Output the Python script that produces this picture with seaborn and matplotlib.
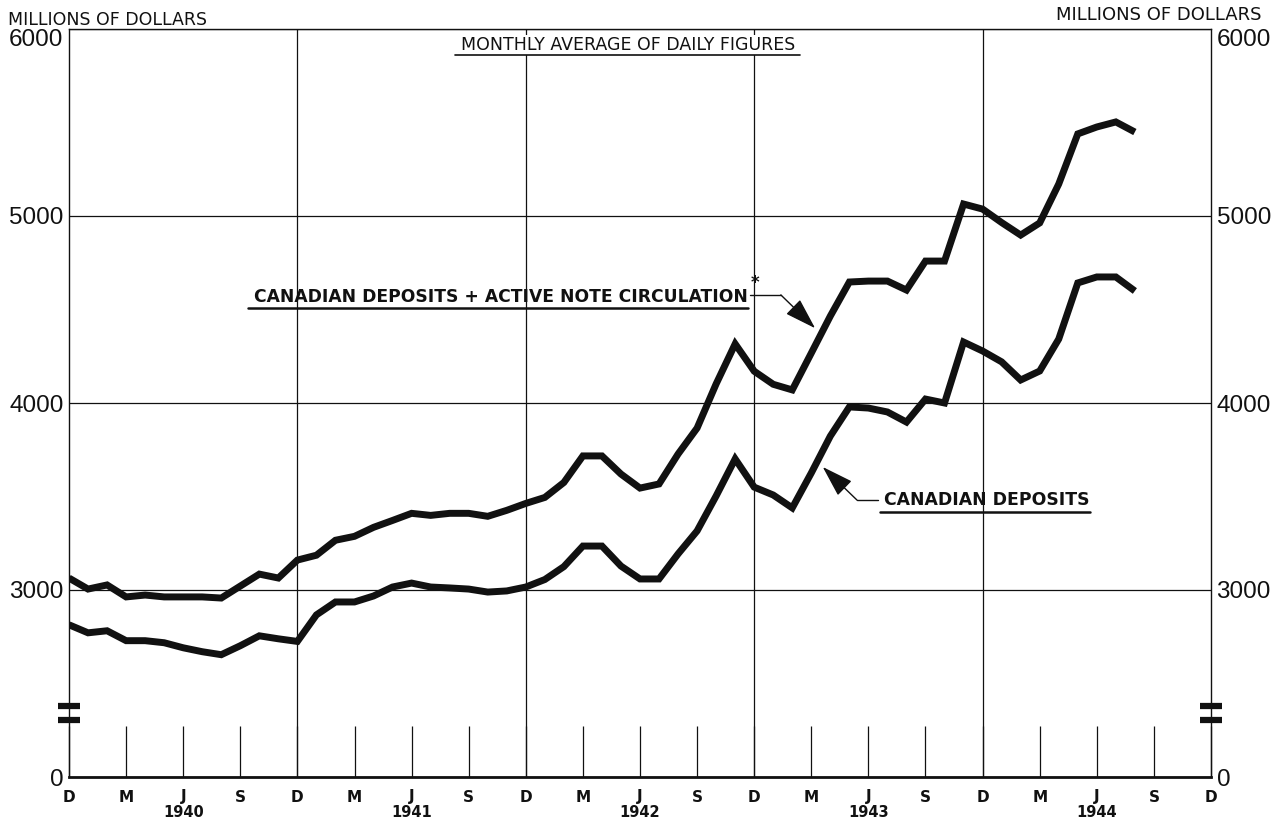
import matplotlib
matplotlib.use("Agg")
import matplotlib.pyplot as plt
import seaborn as sns
import pandas as pd

# Months counted from December 1939 (0) to August 1944 (56)
month_index = list(range(57))

# Canadian deposits plus active note circulation, millions of dollars
deposits_plus_notes = [
    3064, 3005, 3027, 2963, 2973, 2963, 2963, 2963, 2957, 3021, 3085, 3064,
    3160, 3186, 3266, 3287, 3335, 3372, 3410, 3399, 3410, 3410, 3394, 3426,
    3463, 3495, 3575, 3717, 3717, 3620, 3545, 3567, 3727, 3866, 4102, 4316,
    4170, 4100, 4070, 4267, 4465, 4647, 4652, 4652, 4604, 4759, 4759, 5064,
    5037, 4965, 4898, 4963, 5171, 5439, 5476, 5503, 5449,
]

# Canadian deposits, millions of dollars
canadian_deposits = [
    2814, 2771, 2782, 2729, 2729, 2718, 2691, 2670, 2654, 2702, 2755, 2739,
    2725, 2867, 2936, 2936, 2968, 3016, 3037, 3016, 3011, 3005, 2989, 2995,
    3016, 3056, 3125, 3235, 3235, 3128, 3059, 3059, 3193, 3316, 3503, 3701,
    3550, 3508, 3439, 3626, 3823, 3979, 3973, 3952, 3898, 4021, 4000, 4326,
    4278, 4220, 4123, 4171, 4342, 4642, 4674, 4674, 4599,
]

quarter_ticks = list(range(0, 61, 3))
quarter_labels = ["D", "M", "J", "S"] * 5 + ["D"]
year_ticks = [6, 18, 30, 42, 54]
year_labels = ["1940", "1941", "1942", "1943", "1944"]
december_lines = [12, 24, 36, 48]

# The scale is broken below 3000: the bottom edge stands for zero
y_ticks = [2000, 3000, 4000, 5000, 6000]
y_labels = ["0", "3000", "4000", "5000", "6000"]

sns.set_theme(style="white")
plt.rcParams["font.family"] = ["DejaVu Sans"]
digit_font = ["Liberation Sans", "DejaVu Sans"]

W, H = 1279, 818
fig = plt.figure(figsize=(W / 100, H / 100), dpi=100)
fig.patch.set_facecolor("white")
left, right, top, bottom = 69, 1211, 29, 777
ax = fig.add_axes([left / W, 1 - bottom / H, (right - left) / W, (bottom - top) / H])
ax.set_facecolor("white")

ink = "#111111"

df = pd.DataFrame({
    "month": month_index * 2,
    "value": deposits_plus_notes + canadian_deposits,
    "series": ["total"] * len(month_index) + ["deposits"] * len(month_index),
})
for name in ["total", "deposits"]:
    sns.lineplot(data=df[df["series"] == name], x="month", y="value",
                 color=ink, lw=5.0, ax=ax, legend=False,
                 solid_joinstyle="miter", solid_capstyle="butt", zorder=5)

ax.set_xlim(0, 60)
ax.set_ylim(2000, 6000)
ax.set_xlabel("")
ax.set_ylabel("")

# Horizontal grid and year-end verticals
ax.set_yticks(y_ticks)
ax.set_yticklabels(y_labels)
ax.yaxis.grid(True, color=ink, lw=0.9)
ax.xaxis.grid(False)
ax.vlines(december_lines, 2000, 6000, color=ink, lw=0.9, zorder=1)

# Quarter ticks stand up inside the frame
ax.set_xticks(quarter_ticks)
ax.set_xticklabels(quarter_labels, fontweight="bold", fontsize=11)
ax.tick_params(axis="x", direction="in", length=37, width=0.9, color=ink,
               pad=9, bottom=True, labelcolor=ink)
ax.tick_params(axis="y", length=0, labelsize=17.5, pad=4,
               labelleft=True, labelright=True, labelcolor=ink)
for tick in ax.yaxis.get_major_ticks():
    for lab in (tick.label1, tick.label2):
        lab.set_family(digit_font)
ax.yaxis.get_major_ticks()[-1].label1.set_va("top")
ax.yaxis.get_major_ticks()[-1].label2.set_va("top")

for s in ax.spines.values():
    s.set_color(ink)
    s.set_linewidth(1.0)
ax.spines["bottom"].set_linewidth(2.0)

# Year captions under each June
for x, lab in zip(year_ticks, year_labels):
    ax.text(x, -0.047, lab, transform=ax.get_xaxis_transform(),
            ha="center", va="center", fontsize=10.5, fontweight="bold", color=ink)

# Scale-break marks on both vertical axes
for side in (0, 1):
    for v in (2305, 2382):
        ax.plot([side - 0.0096, side + 0.0096], [v, v],
                transform=ax.get_yaxis_transform(), color=ink, lw=4.5,
                solid_capstyle="butt", clip_on=False, zorder=6)

# Units captions
fig.text(8 / W, 1 - 20 / H, "MILLIONS OF DOLLARS", ha="left", va="center",
         fontsize=12.5, color=ink)
fig.text(1262 / W, 1 - 15 / H, "MILLIONS OF DOLLARS", ha="right", va="center",
         fontsize=13, color=ink)

# Subtitle inside the frame
ax.text(29.4, 5915, "MONTHLY AVERAGE OF DAILY FIGURES", ha="center", va="center",
        fontsize=12.5, color=ink, zorder=7,
        bbox=dict(facecolor="white", edgecolor="none", pad=1))
ax.plot([20.3, 38.4], [5860, 5860], color=ink, lw=1.2, zorder=7)

# Series labels with leaders
ax.text(9.7, 4567, "CANADIAN DEPOSITS + ACTIVE NOTE CIRCULATION", ha="left",
        va="center", fontsize=12.3, fontweight="bold", color=ink, zorder=7)
ax.plot([9.4, 35.7], [4506, 4506], color=ink, lw=1.8, zorder=7)
ax.text(36.05, 4640, "*", ha="center", va="center", fontsize=12,
        fontweight="bold", color=ink, zorder=7)
ax.plot([35.8, 37.4], [4578, 4578], color=ink, lw=1.0, zorder=7)
ax.annotate("", xy=(39.2, 4400), xytext=(37.4, 4578),
            arrowprops=dict(arrowstyle="-|>,head_length=1.1,head_width=0.35",
                            color=ink, lw=1.0, mutation_scale=18,
                            shrinkA=0, shrinkB=0), zorder=7)

ax.text(42.8, 3481, "CANADIAN DEPOSITS", ha="left", va="center",
        fontsize=12.4, fontweight="bold", color=ink, zorder=7)
ax.plot([42.6, 53.65], [3415, 3415], color=ink, lw=1.8, zorder=7)
ax.plot([41.4, 42.5], [3481, 3481], color=ink, lw=1.0, zorder=7)
ax.annotate("", xy=(39.6, 3658), xytext=(41.4, 3481),
            arrowprops=dict(arrowstyle="-|>,head_length=1.1,head_width=0.35",
                            color=ink, lw=1.0, mutation_scale=18,
                            shrinkA=0, shrinkB=0), zorder=7)

fig.savefig("out.png", dpi=100, facecolor="white")
